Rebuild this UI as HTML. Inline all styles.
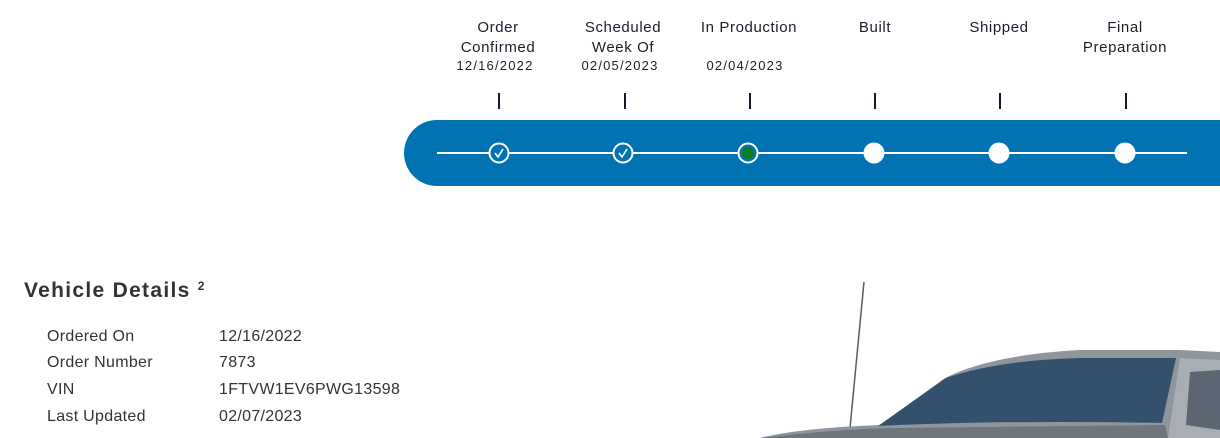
<!DOCTYPE html>
<html><head><style>
body{margin:0;width:1220px;height:438px;overflow:hidden;background:#fff;font-family:"Liberation Sans",sans-serif;}
</style></head><body>
<svg width="1220" height="438" viewBox="0 0 1220 438" xmlns="http://www.w3.org/2000/svg" style="position:absolute;left:0;top:0">
<g font-family="Liberation Sans, sans-serif" fill="#1a1f2c" text-anchor="middle" font-size="15" letter-spacing="0.6">
<text x="498" y="32">Order</text><text x="498" y="52">Confirmed</text>
<text x="623" y="32">Scheduled</text><text x="623" y="52">Week Of</text>
<text x="749" y="32">In Production</text>
<text x="875" y="32">Built</text>
<text x="999" y="32">Shipped</text>
<text x="1125" y="32">Final</text><text x="1125" y="52">Preparation</text>
<g font-size="13" letter-spacing="1.2">
<text x="495" y="70">12/16/2022</text><text x="620" y="70">02/05/2023</text><text x="745" y="70">02/04/2023</text>
</g></g>
<g stroke="#111a2b" stroke-width="2">
<line x1="499" y1="93" x2="499" y2="109"/><line x1="625" y1="93" x2="625" y2="109"/><line x1="750" y1="93" x2="750" y2="109"/>
<line x1="875" y1="93" x2="875" y2="109"/><line x1="1000" y1="93" x2="1000" y2="109"/><line x1="1126" y1="93" x2="1126" y2="109"/>
</g>
<path d="M437 120 H1220 V186 H437 A33 33 0 0 1 437 120 Z" fill="#0273b2"/>
<line x1="437" y1="153" x2="1187" y2="153" stroke="#fff" stroke-width="2"/>
<g stroke="#fff" stroke-width="2" fill="#0273b2">
<circle cx="499" cy="153" r="9.5"/><circle cx="623" cy="153" r="9.5"/><circle cx="748" cy="153" r="9.5"/>
</g>
<circle cx="748" cy="153" r="6" fill="#0b7d1e"/>
<g stroke="#fff" stroke-width="1.6" fill="none"><path d="M495 153 l3 4 l5 -8"/><path d="M619 153 l3 4 l5 -8"/></g>
<g fill="#fff"><circle cx="874" cy="153" r="10.5"/><circle cx="999" cy="153" r="10.5"/><circle cx="1125" cy="153" r="10.5"/></g>
<line x1="864" y1="282" x2="850" y2="428" stroke="#555c66" stroke-width="1.5"/>
<path d="M760 438 Q800 428 880 425 L945 378 Q990 355 1080 350 L1180 350 L1220 352 V438 Z" fill="#8f959c"/>
<path d="M878 426 L946 378 Q1000 360 1080 358 L1176 358 L1162 423 Q1000 420 878 426 Z" fill="#33506d"/>
<path d="M1180 358 L1220 360 V438 H1168 Z" fill="#a9aeb4"/>
<path d="M1190 372 L1220 370 V430 L1186 425 Z" fill="#5b6672"/>
<path d="M760 438 Q850 428 900 428 L1165 425 L1168 438 Z" fill="#6f757c"/>
<text x="24" y="297" font-size="21" font-weight="bold" fill="#333" text-anchor="start" letter-spacing="1.3">Vehicle Details <tspan font-size="12" dy="-7">2</tspan></text>
<g font-size="16" fill="#333" text-anchor="start" letter-spacing="0.3">
<text x="47" y="341">Ordered On</text><text x="219" y="341">12/16/2022</text>
<text x="47" y="367">Order Number</text><text x="219" y="367">7873</text>
<text x="47" y="394">VIN</text><text x="219" y="394">1FTVW1EV6PWG13598</text>
<text x="47" y="421">Last Updated</text><text x="219" y="421">02/07/2023</text>
</g>
</svg>
</body></html>
